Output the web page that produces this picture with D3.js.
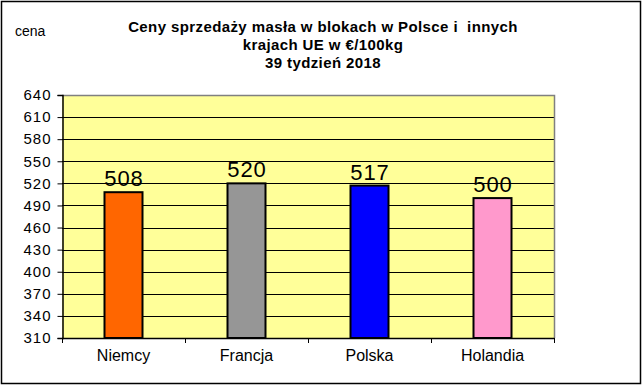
<!DOCTYPE html>
<html>
<head>
<meta charset="utf-8">
<script src="https://d3js.org/d3.v7.min.js"></script>
<style>
  html, body { margin: 0; padding: 0; background: #fff; }
  text { font-family: "Liberation Sans", Arial, sans-serif; }
</style>
</head>
<body>
<script>
var categories = ['Niemcy', 'Francja', 'Polska', 'Holandia'];
var prices = [508, 520, 517, 500];
var barColors = ['#FF6600', '#969696', '#0000FF', '#FF99CC'];
var yTicks = [310, 340, 370, 400, 430, 460, 490, 520, 550, 580, 610, 640];
var titleLines = ['Ceny sprzedaży masła w blokach w Polsce i  innych', 'krajach UE w €/100kg', '39 tydzień 2018'];

var width = 642, height = 385;
var pLeft = 62, pRight = 554, pTop = 95, pBottom = 338;

var svg = d3.select('body').append('svg')
  .attr('width', width)
  .attr('height', height);

// outer frame
svg.append('rect')
  .attr('x', 1.5).attr('y', 1.5)
  .attr('width', width - 3).attr('height', height - 3)
  .attr('fill', '#fff').attr('stroke', '#000').attr('stroke-width', 1.5);

var x = d3.scaleBand().domain(categories).range([pLeft, pRight]).paddingInner(0).paddingOuter(0);
var y = d3.scaleLinear().domain([310, 640]).range([pBottom, pTop]);

// plot background
svg.append('rect')
  .attr('x', pLeft).attr('y', pTop)
  .attr('width', pRight - pLeft).attr('height', pBottom - pTop)
  .attr('fill', '#FFFF99');

// grid lines
svg.append('g').selectAll('line')
  .data(yTicks.filter(function (d) { return d > 310 && d < 640; }))
  .enter().append('line')
  .attr('x1', pLeft).attr('x2', pRight)
  .attr('y1', function (d) { return Math.round(y(d)) + 0.5; })
  .attr('y2', function (d) { return Math.round(y(d)) + 0.5; })
  .attr('stroke', '#000').attr('stroke-width', 1);

// gray top and right border
svg.append('path')
  .attr('d', 'M' + pLeft + ',' + (pTop + 0.5) + 'H' + (pRight + 0.5) + 'V' + pBottom)
  .attr('fill', 'none').attr('stroke', '#808080').attr('stroke-width', 1.5);

// bars
var bw = 38;
svg.append('g').selectAll('rect')
  .data(prices)
  .enter().append('rect')
  .attr('x', function (d, i) { return x(categories[i]) + x.bandwidth() / 2 - bw / 2; })
  .attr('y', function (d) { return y(d); })
  .attr('width', bw)
  .attr('height', function (d) { return pBottom - y(d); })
  .attr('fill', function (d, i) { return barColors[i]; })
  .attr('stroke', '#000').attr('stroke-width', 2);

// value labels
svg.append('g').selectAll('text')
  .data(prices)
  .enter().append('text')
  .attr('x', function (d, i) { return x(categories[i]) + x.bandwidth() / 2 + 0.5; })
  .attr('y', function (d) { return y(d) - 6; })
  .attr('text-anchor', 'middle')
  .attr('font-size', 22)
  .attr('letter-spacing', 1)
  .text(function (d) { return d; });

// y axis
var yAxis = svg.append('g')
  .attr('transform', 'translate(' + (pLeft + 0.5) + ',0)')
  .call(d3.axisLeft(y).tickValues(yTicks).tickSize(5).tickPadding(6).tickFormat(d3.format('d')));
yAxis.selectAll('text').attr('font-size', 15).attr('letter-spacing', 1).attr('fill', '#000').style('font-family', '"Liberation Sans", Arial, sans-serif');
yAxis.select('.domain').attr('stroke-width', 1.5);

// x axis
var xTicks = [pLeft, pLeft + x.bandwidth(), pLeft + 2 * x.bandwidth(), pLeft + 3 * x.bandwidth(), pRight];
var xAxis = svg.append('g');
xAxis.append('line')
  .attr('x1', pLeft).attr('x2', pRight + 0.5)
  .attr('y1', pBottom + 0.5).attr('y2', pBottom + 0.5)
  .attr('stroke', '#000').attr('stroke-width', 1.5);
xAxis.selectAll('.tk').data(xTicks).enter().append('line')
  .attr('x1', function (d) { return Math.round(d) + 0.5; })
  .attr('x2', function (d) { return Math.round(d) + 0.5; })
  .attr('y1', pBottom).attr('y2', pBottom + 5)
  .attr('stroke', '#000');
xAxis.selectAll('text').data(categories).enter().append('text')
  .attr('x', function (d) { return x(d) + x.bandwidth() / 2; })
  .attr('y', pBottom + 23)
  .attr('text-anchor', 'middle')
  .attr('font-size', 16)
  .text(function (d) { return d; });

// title
svg.append('g').selectAll('text')
  .data(titleLines)
  .enter().append('text')
  .attr('x', 323)
  .attr('y', function (d, i) { return 32 + i * 18; })
  .attr('text-anchor', 'middle')
  .attr('font-size', 15)
  .attr('font-weight', 'bold')
  .attr('letter-spacing', 0.4)
  .style('white-space', 'pre')
  .text(function (d) { return d; });

// axis label
svg.append('text')
  .attr('x', 15).attr('y', 36)
  .attr('font-size', 14)
  .text('cena');
</script>
</body>
</html>
